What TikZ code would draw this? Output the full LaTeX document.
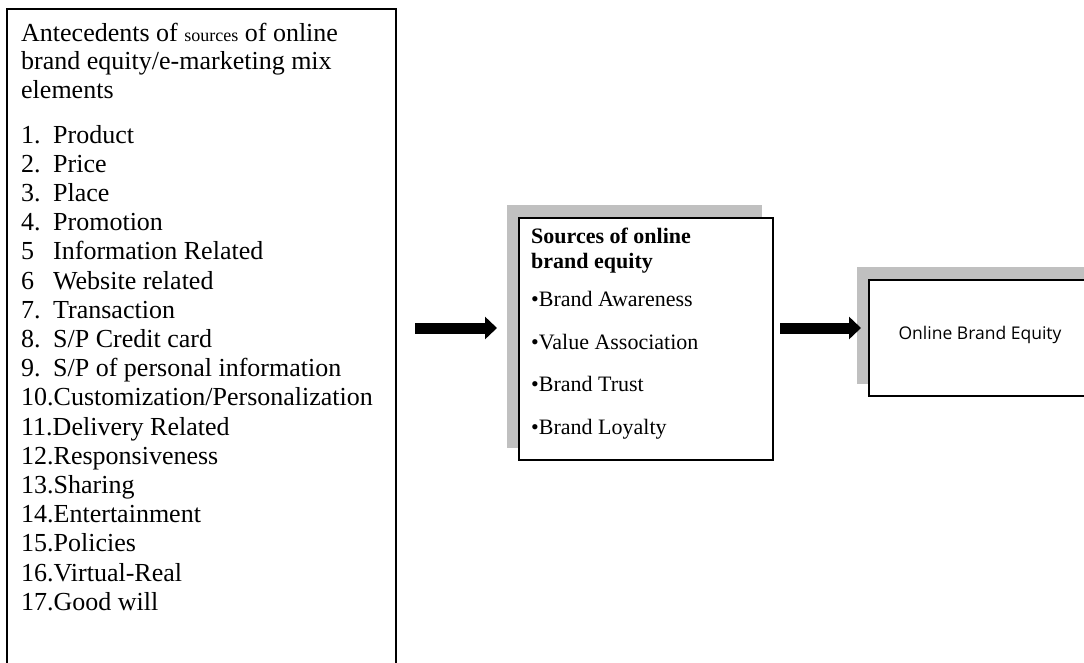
\documentclass[tikz,border=0pt]{standalone}
\usepackage{fontspec}
\setmainfont{Liberation Serif}
\newfontfamily\labelsans{Open Sans}
\usetikzlibrary{arrows.meta}
\definecolor{shadowgray}{HTML}{C0C0C0}
\tikzset{
  frame/.style={draw=black, line width=1.6pt},
  boxnode/.style={frame, fill=white, anchor=north west, inner sep=0pt},
  shadownode/.style={fill=shadowgray, anchor=north west, inner sep=0pt},
  listline/.style={anchor=base west, inner sep=0pt, font=\fontsize{26}{29}\selectfont},
  midline/.style={anchor=base west, inner sep=0pt, font=\fontsize{22}{25}\selectfont},
  flowarrow/.style={line width=11pt, -{Triangle[length=12pt,width=22pt]}},
}
\begin{document}
\begin{tikzpicture}[x=1pt,y=-1pt]
\useasboundingbox (0,0) rectangle (1084,662);

% left panel: the e-marketing mix list, open at the bottom edge
\draw[frame] (7,690) -- (7,9) -- (396,9) -- (396,690);
\node[listline] (t1) at (21,41) {Antecedents of {\fontsize{18}{20}\selectfont sources} of online};
\node[listline] (t2) at (21,69.5) {brand equity/e-marketing mix};
\node[listline] (t3) at (21,98) {elements};

\foreach \num/\txt [count=\i] in {
  1./Product, 2./Price, 3./Place, 4./Promotion, 5/{Information Related},
  6/{Website related}, 7./Transaction, 8./{S/P Credit card},
  9./{S/P of personal information}}{
  \node[listline] (n\i) at (21,{143+(\i-1)*29.2}) {\num};
  \node[listline] (i\i) at (53,{143+(\i-1)*29.2}) {\txt};
}
\foreach \txt [count=\i from 10] in {
  Customization/Personalization, Delivery Related, Responsiveness, Sharing,
  Entertainment, Policies, Virtual-Real, Good will}{
  \node[listline] (i\i) at (21,{143+(\i-1)*29.2}) {\i.\txt};
}

% middle panel: sources of online brand equity
\node[shadownode, minimum width=255pt, minimum height=243pt] (midshadow) at (507,205) {};
\node[boxnode, minimum width=254pt, minimum height=242pt] (mid) at (518,217) {};
\node[midline] (m1) at (531,243.5) {\bfseries Sources of online};
\node[midline] (m2) at (531,268.5) {\bfseries brand equity};
\node[midline] (b1) at (531,306.5) {•Brand Awareness};
\node[midline] (b2) at (531,349) {•Value Association};
\node[midline] (b3) at (531,391.5) {•Brand Trust};
\node[midline] (b4) at (531,434) {•Brand Loyalty};

% right panel: outcome
\node[shadownode, minimum width=260pt, minimum height=117pt] (outshadow) at (857,267) {};
\node[boxnode, minimum width=250pt, minimum height=116pt] (out) at (868,279) {};
\node[anchor=base, inner sep=0pt, font=\labelsans\fontsize{17.5}{20}\selectfont] (outlabel) at (980,339) {Online Brand Equity};

% flow arrows
\coordinate (a1s) at (415,328);
\coordinate (a1e) at (497,328);
\coordinate (a2s) at (780,328);
\coordinate (a2e) at (861,328);
\draw[flowarrow] (a1s) -- (a1e);
\draw[flowarrow] (a2s) -- (a2e);
\end{tikzpicture}
\end{document}
